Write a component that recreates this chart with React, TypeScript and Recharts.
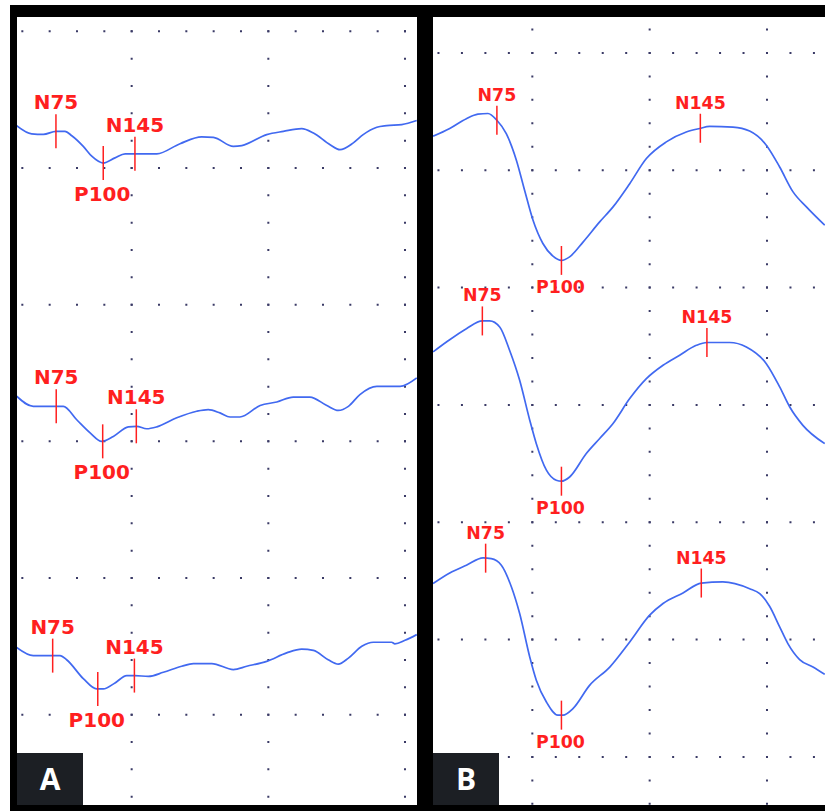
import { ComposedChart, Line, Scatter, XAxis, YAxis, CartesianGrid } from "recharts";

// VEP recordings. Time in ms (10 ms per minor division), amplitude in divisions.
// Panel A: three low-amplitude channels
const a1Time = [7.9, 13.4, 17.7, 22.3, 25.6, 28.1, 32.3, 35.4, 39.6, 43.9, 47.6, 51.2, 59.2, 67.7, 75.6, 79.9, 87.2, 90.3, 99.4, 105.5, 112.2, 116.5, 122.6, 126.2, 131.1, 134.7, 139.7, 143.3, 148.8, 154.3];
const a1Amp = [26.55, 26.25, 26.23, 26.34, 26.34, 26.18, 25.79, 25.43, 25.18, 25.37, 25.52, 25.52, 25.52, 25.89, 26.14, 26.12, 25.79, 25.82, 26.22, 26.34, 26.44, 26.28, 25.85, 25.67, 25.92, 26.22, 26.49, 26.55, 26.59, 26.74];

const a2Time = [7.9, 14.0, 22.6, 25.0, 29.9, 34.8, 39.0, 43.3, 48.8, 51.8, 55.5, 59.2, 66.5, 73.8, 78.0, 82.3, 86.0, 89.6, 97.0, 103.1, 109.1, 115.2, 121.4, 125.6, 129.3, 133.5, 139.7, 148.2, 154.3];
const a2Amp = [16.65, 16.28, 16.28, 16.28, 15.79, 15.31, 15.0, 15.18, 15.53, 15.55, 15.46, 15.53, 15.86, 16.1, 16.16, 16.04, 15.89, 15.89, 16.31, 16.44, 16.62, 16.62, 16.31, 16.13, 16.28, 16.71, 17.01, 17.01, 17.32];

const a3Time = [7.9, 14.0, 21.1, 23.8, 26.2, 32.3, 37.2, 39.6, 43.9, 48.2, 51.2, 56.1, 61.6, 68.3, 72.6, 79.3, 87.2, 92.1, 99.4, 106.7, 112.2, 116.5, 121.9, 125.6, 129.3, 134.2, 138.4, 145.1, 146.3, 150.0, 154.3];
const a3Amp = [7.46, 7.16, 7.16, 7.16, 7.01, 6.32, 5.94, 5.94, 6.16, 6.43, 6.43, 6.4, 6.55, 6.77, 6.87, 6.87, 6.65, 6.77, 6.95, 7.26, 7.4, 7.35, 7.01, 6.85, 7.07, 7.5, 7.65, 7.65, 7.59, 7.72, 7.93];

// Panel B: three high-amplitude channels
const b1Time = [7.7, 14.8, 21.9, 26.8, 31.1, 34.9, 38.9, 43.2, 46.7, 50.3, 54.5, 58.8, 62.4, 65.9, 71.6, 78.7, 84.4, 91.5, 98.6, 107.1, 115.6, 121.3, 125.6, 135.5, 142.6, 149.7, 155.4, 161.1, 166.8, 174.6];
const b1Amp = [31.45, 31.78, 32.2, 32.39, 32.42, 32.13, 31.56, 30.43, 29.15, 27.87, 26.88, 26.34, 26.16, 26.31, 26.94, 27.8, 28.44, 29.43, 30.5, 31.21, 31.63, 31.78, 31.87, 31.84, 31.67, 31.07, 30.14, 29.08, 28.44, 27.66];

const b2Time = [7.7, 13.4, 21.9, 28.7, 31.8, 36.1, 40.3, 44.6, 48.9, 51.7, 56.0, 60.2, 62.4, 65.9, 73.0, 78.7, 84.4, 91.5, 98.6, 105.7, 112.8, 119.9, 124.4, 134.1, 141.2, 149.7, 155.4, 159.7, 165.3, 174.6];
const b2Amp = [22.26, 22.68, 23.25, 23.58, 23.58, 23.32, 22.33, 21.05, 19.35, 18.35, 17.22, 16.79, 16.75, 16.93, 17.93, 18.57, 19.21, 20.27, 21.12, 21.69, 22.12, 22.54, 22.66, 22.66, 22.47, 21.76, 20.77, 19.91, 19.13, 18.35];

const b3Time = [7.7, 14.8, 21.9, 29.0, 32.5, 36.8, 41.1, 44.6, 48.9, 51.7, 56.0, 60.9, 63.1, 67.3, 74.4, 83.0, 91.5, 100.0, 105.7, 114.2, 122.0, 131.2, 142.6, 146.9, 151.1, 155.4, 158.9, 163.9, 169.6, 174.6];
const b3Amp = [12.39, 12.84, 13.17, 13.48, 13.45, 13.17, 12.24, 11.11, 9.26, 8.27, 7.34, 6.78, 6.78, 7.06, 8.05, 8.83, 9.9, 11.04, 11.54, 11.99, 12.41, 12.46, 12.17, 11.96, 11.42, 10.54, 9.83, 9.15, 8.83, 8.52];

// peak markers (N75, P100, N145) per channel
const peakNames = ["N75", "P100", "N145"];
const a1PeakTime = [22.3, 39.6, 51.2];
const a1PeakAmp = [26.34, 25.18, 25.52];
const a2PeakTime = [22.4, 39.4, 51.7];
const a2PeakAmp = [16.28, 15.0, 15.55];
const a3PeakTime = [21.1, 37.6, 51.0];
const a3PeakAmp = [7.16, 5.94, 6.43];
const b1PeakTime = [34.9, 62.4, 121.6];
const b1PeakAmp = [32.13, 26.16, 31.79];
const b2PeakTime = [28.7, 62.4, 124.4];
const b2PeakAmp = [23.58, 16.75, 22.66];
const b3PeakTime = [30.1, 62.4, 122.0];
const b3PeakAmp = [13.47, 6.78, 12.41];

const timeTicks = [50, 100, 150];
const ampTicksA = [5, 10, 15, 20, 25, 30];
const ampTicksB = [5, 10, 15, 20, 25, 30, 35];

const BLUE = "#4169f0";
const RED = "#ff1f1f";
const DOT = "#3a3a66";

const toPoints = (t: number[], v: number[]) => t.map((x, i) => ({ t: x, v: v[i] }));
const toPeaks = (t: number[], v: number[]) =>
  t.map((x, i) => ({ t: x, v: v[i], name: peakNames[i] }));

type PanelProps = {
  left: number;
  width: number;
  chartLeft: number;
  chartTop: number;
  chartWidth: number;
  chartHeight: number;
  xMax: number;
  yMax: number;
  yTicks: number[];
  step: number;
  traces: { t: number; v: number }[][];
  peaks: { t: number; v: number; name: string }[][];
  half: number;
  fontSize: number;
  below: number;
  letter: string;
};

function Panel(p: PanelProps) {
  const dotLine = (props: any) => (
    <line
      key={props.key}
      x1={props.x1}
      y1={props.y1}
      x2={props.x2}
      y2={props.y2}
      stroke={DOT}
      strokeWidth={2}
      strokeDasharray={`2 ${p.step - 2}`}
      strokeDashoffset={1}
    />
  );

  const peakShape = (props: any) => {
    const { cx, cy, payload } = props;
    const positive = payload.name.startsWith("P");
    return (
      <g>
        <line x1={cx} x2={cx} y1={cy - p.half} y2={cy + p.half} stroke={RED} strokeWidth={1.5} />
        <text
          x={positive ? cx - 1 : cx}
          y={positive ? cy + p.half + p.below : cy - p.half - 5}
          textAnchor="middle"
          fill={RED}
          fontFamily="DejaVu Sans"
          fontWeight="bold"
          fontSize={p.fontSize}
        >
          {payload.name}
        </text>
      </g>
    );
  };

  return (
    <div
      style={{
        position: "absolute",
        left: p.left,
        top: 17,
        width: p.width,
        height: 788,
        background: "#ffffff",
        overflow: "hidden",
      }}
    >
      <div style={{ position: "absolute", left: p.chartLeft, top: p.chartTop }}>
        <ComposedChart
          width={p.chartWidth}
          height={p.chartHeight}
          margin={{ top: 0, right: 0, bottom: 0, left: 0 }}
        >
          <XAxis
            dataKey="t"
            type="number"
            domain={[0, p.xMax]}
            ticks={timeTicks}
            allowDataOverflow
            hide
          />
          <YAxis type="number" domain={[0, p.yMax]} ticks={p.yTicks} allowDataOverflow hide />
          <CartesianGrid horizontal={dotLine} vertical={dotLine} />
          {p.traces.map((d, i) => (
            <Line
              key={`tr${i}`}
              data={d}
              dataKey="v"
              type="monotone"
              stroke={BLUE}
              strokeWidth={1.7}
              dot={false}
              activeDot={false}
              isAnimationActive={false}
            />
          ))}
          {p.peaks.map((d, i) => (
            <Scatter
              key={`pk${i}`}
              data={d}
              dataKey="v"
              shape={peakShape}
              isAnimationActive={false}
            />
          ))}
        </ComposedChart>
      </div>
      <div
        style={{
          position: "absolute",
          left: 0,
          bottom: 0,
          width: 66,
          height: 52,
          background: "#1c1f24",
          color: "#ffffff",
          fontFamily: "Open Sans",
          fontWeight: 700,
          fontSize: 30,
          lineHeight: "52px",
          textAlign: "center",
        }}
      >
        {p.letter}
      </div>
    </div>
  );
}

export default function App() {
  return (
    <div
      style={{
        position: "fixed",
        left: 0,
        top: 0,
        width: 825,
        height: 811,
        background: "#ffffff",
        overflow: "hidden",
      }}
    >
      <div
        style={{ position: "absolute", left: 10, top: 5, width: 815, height: 806, background: "#000000" }}
      />
      <Panel
        left={17}
        width={400}
        chartLeft={-22}
        chartTop={-12.63}
        chartWidth={437.33}
        chartHeight={847.33}
        xMax={160}
        yMax={31}
        yTicks={ampTicksA}
        step={27.333}
        traces={[toPoints(a1Time, a1Amp), toPoints(a2Time, a2Amp), toPoints(a3Time, a3Amp)]}
        peaks={[
          toPeaks(a1PeakTime, a1PeakAmp),
          toPeaks(a2PeakTime, a2PeakAmp),
          toPeaks(a3PeakTime, a3PeakAmp),
        ]}
        half={17}
        fontSize={20}
        below={21}
        letter="A"
      />
      <Panel
        left={433}
        width={392}
        chartLeft={-17.67}
        chartTop={-11.27}
        chartWidth={422.4}
        chartHeight={868.27}
        xMax={180}
        yMax={37}
        yTicks={ampTicksB}
        step={23.467}
        traces={[toPoints(b1Time, b1Amp), toPoints(b2Time, b2Amp), toPoints(b3Time, b3Amp)]}
        peaks={[
          toPeaks(b1PeakTime, b1PeakAmp),
          toPeaks(b2PeakTime, b2PeakAmp),
          toPeaks(b3PeakTime, b3PeakAmp),
        ]}
        half={14.5}
        fontSize={17.4}
        below={18.3}
        letter="B"
      />
    </div>
  );
}
